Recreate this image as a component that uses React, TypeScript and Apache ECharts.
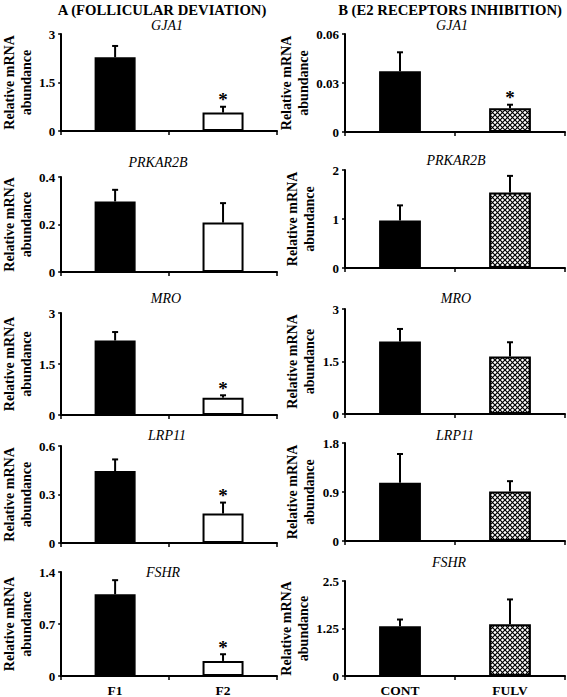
import React, { useEffect, useRef } from 'react';
import * as echarts from 'echarts';

// ---------- data ----------
const genes = ['GJA1', 'PRKAR2B', 'MRO', 'LRP11', 'FSHR'];
const groupsA = ['F1', 'F2'];
const groupsB = ['CONT', 'FULV'];

const f1Mean = [2.28, 0.297, 2.19, 0.445, 1.1];
const f1Err = [0.35, 0.049, 0.25, 0.072, 0.19];
const f2Mean = [0.57, 0.208, 0.51, 0.182, 0.203];
const f2Err = [0.18, 0.082, 0.07, 0.068, 0.09];
const f2Sig = [true, false, true, true, true];
const aMax = [3, 0.4, 3, 0.6, 1.4];

const contMean = [0.0372, 0.968, 2.07, 1.068, 1.306];
const contErr = [0.0116, 0.31, 0.36, 0.53, 0.18];
const fulvMean = [0.0145, 1.54, 1.64, 0.909, 1.365];
const fulvErr = [0.0022, 0.34, 0.41, 0.19, 0.65];
const fulvSig = [true, false, false, false, false];
const bMax = [0.06, 2, 3, 1.8, 2.5];

const panelTitles = ['A (FOLLICULAR DEVIATION)', 'B (E2 RECEPTORS INHIBITION)'];
const yName = 'Relative mRNA\nabundance';

// ---------- layout ----------
const colLeft = [57, 345];
const colWidth = 220;
const rowTop = [
  [34, 177, 313, 446, 572],
  [34, 170, 309, 443, 581],
];
const rowHeight = [
  [97, 95, 102, 97, 108],
  [98, 98, 105, 98, 97],
];
const titleX = [
  [167, 158, 166, 167, 163],
  [452, 456, 456, 455, 449],
];
const titleY = [
  [25, 162, 298, 435, 572],
  [25, 160, 298, 435, 562],
];
const headX = [162, 450];
const headY = 10;

const SERIF = 'Liberation Serif';

function makeHatch(): HTMLCanvasElement {
  const s = 5;
  const c = document.createElement('canvas');
  c.width = s;
  c.height = s;
  const ctx = c.getContext('2d')!;
  ctx.fillStyle = '#fff';
  ctx.fillRect(0, 0, s, s);
  ctx.strokeStyle = '#000';
  ctx.lineWidth = 1.2;
  ctx.beginPath();
  ctx.moveTo(-1, -1);
  ctx.lineTo(s + 1, s + 1);
  ctx.moveTo(-1, s + 1);
  ctx.lineTo(s + 1, -1);
  ctx.stroke();
  return c;
}

export default function App() {
  const ref = useRef<HTMLDivElement>(null);

  useEffect(() => {
    if (!ref.current) return;
    const chart = echarts.init(ref.current, null, { renderer: 'svg' });
    const hatch = { image: makeHatch(), repeat: 'repeat' };

    const grids: any[] = [];
    const xAxes: any[] = [];
    const yAxes: any[] = [];
    const series: any[] = [];
    const graphic: any[] = [];

    for (let col = 0; col < 2; col++) {
      graphic.push({
        type: 'text',
        x: headX[col],
        y: headY,
        style: {
          text: panelTitles[col],
          align: 'center',
          verticalAlign: 'middle',
          fontSize: 14.7,
          fontWeight: 'bold',
          fontFamily: SERIF,
          fill: '#000',
        },
      });
      for (let row = 0; row < 5; row++) {
        const i = grids.length;
        const cats = col === 0 ? groupsA : groupsB;
        const m1 = col === 0 ? f1Mean[row] : contMean[row];
        const e1 = col === 0 ? f1Err[row] : contErr[row];
        const m2 = col === 0 ? f2Mean[row] : fulvMean[row];
        const e2 = col === 0 ? f2Err[row] : fulvErr[row];
        const sig = col === 0 ? f2Sig[row] : fulvSig[row];
        const max = col === 0 ? aMax[row] : bMax[row];

        grids.push({
          left: colLeft[col],
          width: colWidth,
          top: rowTop[col][row],
          height: rowHeight[col][row],
        });
        xAxes.push({
          gridIndex: i,
          type: 'category',
          data: cats,
          axisLine: { lineStyle: { color: '#000', width: 2 } },
          axisTick: { show: true, length: 4, lineStyle: { color: '#000', width: 1.5 } },
          axisLabel: {
            show: row === 4,
            color: '#000',
            fontWeight: 'bold',
            fontSize: 13.5,
            fontFamily: SERIF,
            margin: 7,
          },
          splitLine: { show: false },
        });
        yAxes.push({
          gridIndex: i,
          type: 'value',
          min: 0,
          max: max,
          interval: max / 2,
          axisLine: { show: true, lineStyle: { color: '#000', width: 2 } },
          axisTick: { show: true, length: 3, lineStyle: { color: '#000', width: 1.5 } },
          axisLabel: {
            color: '#000',
            fontWeight: 'bold',
            fontSize: 13,
            fontFamily: SERIF,
            margin: 6,
          },
          splitLine: { show: false },
          name: yName,
          nameLocation: 'middle',
          nameGap: col === 0 ? 22 : 27,
          nameTextStyle: {
            color: '#000',
            fontWeight: 'bold',
            fontSize: 14,
            lineHeight: 17,
            fontFamily: SERIF,
          },
        });
        series.push({
          type: 'bar',
          xAxisIndex: i,
          yAxisIndex: i,
          barWidth: '38%',
          silent: true,
          data: [
            { value: m1, itemStyle: { color: '#000', borderColor: '#000', borderWidth: 1.5 } },
            {
              value: m2,
              itemStyle: {
                color: col === 0 ? '#fff' : hatch,
                borderColor: '#000',
                borderWidth: 2,
              },
            },
          ],
        });
        series.push({
          type: 'custom',
          xAxisIndex: i,
          yAxisIndex: i,
          z: 5,
          silent: true,
          data: [
            [0, m1, m1 + e1, 0],
            [1, m2, m2 + e2, sig ? 1 : 0],
          ],
          renderItem: (params: any, api: any) => {
            const base = api.coord([api.value(0), api.value(1)]);
            const top = api.coord([api.value(0), api.value(2)]);
            const children: any[] = [
              {
                type: 'line',
                shape: { x1: base[0], y1: base[1], x2: top[0], y2: top[1] },
                style: { stroke: '#000', lineWidth: 2 },
              },
              {
                type: 'line',
                shape: { x1: top[0] - 3, y1: top[1], x2: top[0] + 3, y2: top[1] },
                style: { stroke: '#000', lineWidth: 2 },
              },
            ];
            if (api.value(3)) {
              children.push({
                type: 'text',
                x: top[0],
                y: top[1] - 7,
                style: {
                  text: '*',
                  align: 'center',
                  verticalAlign: 'middle',
                  fontSize: 19,
                  fontWeight: 'bold',
                  fontFamily: SERIF,
                  fill: '#000',
                },
              });
            }
            return { type: 'group', children };
          },
        });
        graphic.push({
          type: 'text',
          x: titleX[col][row],
          y: titleY[col][row],
          style: {
            text: genes[row],
            align: 'center',
            verticalAlign: 'middle',
            fontSize: 14,
            fontStyle: 'italic',
            fontFamily: SERIF,
            fill: '#000',
          },
        });
      }
    }

    chart.setOption({
      animation: false,
      backgroundColor: '#fff',
      grid: grids,
      xAxis: xAxes,
      yAxis: yAxes,
      series,
      graphic,
    });

    return () => {
      chart.dispose();
    };
  }, []);

  return (
    <div
      ref={ref}
      style={{ position: 'absolute', left: 0, top: 0, width: 567, height: 697 }}
    />
  );
}
